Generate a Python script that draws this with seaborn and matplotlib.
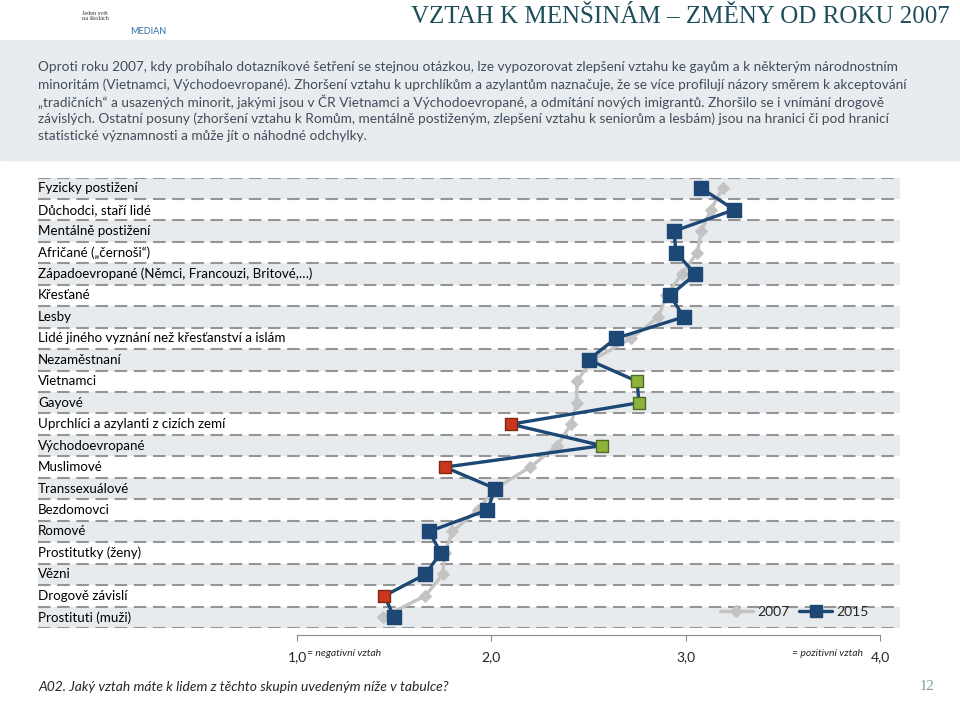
import numpy as np
import pandas as pd
import matplotlib
matplotlib.use("Agg")
import matplotlib.pyplot as plt
import seaborn as sns
from matplotlib.lines import Line2D
from matplotlib.patches import Rectangle

# --- data (mean rating 1 = negative, 4 = positive) ---
groups = [
    "Fyzicky postižení",
    "Důchodci, staří lidé",
    "Mentálně postižení",
    "Afričané („černoši“)",
    "Západoevropané (Němci, Francouzi, Britové,…)",
    "Křesťané",
    "Lesby",
    "Lidé jiného vyznání než křesťanství a islám",
    "Nezaměstnaní",
    "Vietnamci",
    "Gayové",
    "Uprchlíci a azylanti z cizích zemí",
    "Východoevropané",
    "Muslimové",
    "Transsexuálové",
    "Bezdomovci",
    "Romové",
    "Prostitutky (ženy)",
    "Vězni",
    "Drogově závislí",
    "Prostituti (muži)",
]
v2007 = [3.19, 3.13, 3.08, 3.06, 2.98, 2.90, 2.86, 2.72, 2.52, 2.44, 2.44,
         2.41, 2.34, 2.20, 2.02, 1.93, 1.80, 1.76, 1.75, 1.66, 1.44]
v2015 = [3.08, 3.25, 2.94, 2.95, 3.05, 2.92, 2.99, 2.64, 2.50, 2.75, 2.76,
         2.10, 2.57, 1.76, 2.02, 1.98, 1.68, 1.74, 1.66, 1.45, 1.50]
# significant change: "+" improved, "-" worsened
change = ["", "", "", "", "", "", "", "", "", "+", "+",
          "-", "+", "-", "", "", "", "", "", "-", ""]

x_ticks = [1, 2, 3, 4]
x_ticklabels = ["1,0", "2,0", "3,0", "4,0"]

intro_lines = [
    "Oproti roku 2007, kdy probíhalo dotazníkové šetření se stejnou otázkou, lze vypozorovat zlepšení vztahu ke gayům a k některým národnostním",
    "minoritám (Vietnamci, Východoevropané). Zhoršení vztahu k uprchlíkům a azylantům naznačuje, že se více profilují názory směrem k akceptování",
    "„tradičních“ a usazených minorit, jakými jsou v ČR Vietnamci a Východoevropané, a odmítání nových imigrantů. Zhoršilo se i vnímání drogově",
    "závislých. Ostatní posuny (zhoršení vztahu k Romům, mentálně postiženým, zlepšení vztahu k seniorům a lesbám) jsou na hranici či pod hranicí",
    "statistické významnosti a může jít o náhodné odchylky.",
]

df = pd.DataFrame({"skupina": groups, "r2007": v2007, "r2015": v2015, "zmena": change})
df["pos"] = np.arange(len(df))
n = len(df)

BLUE = "#1D4775"
GREY = "#C3C3C3"
BAND = "#E8EBEE"
mcolors = {"": BLUE, "+": "#8DB33A", "-": "#C8371E"}
medges = {"": BLUE, "+": "#4F6A22", "-": "#7F2A15"}
msizes = {"": 95, "+": 72, "-": 72}

sns.set_style("white")
plt.rcParams["font.family"] = ["Lato", "DejaVu Sans"]

W, H = 960, 712
fig = plt.figure(figsize=(9.6, 7.12), dpi=100)

# header / text box
fig.patches.append(Rectangle((0, 1 - 160 / H), 1, 120 / H, transform=fig.transFigure,
                             color="#E9ECEF", zorder=0))
fig.text(950 / W, 1 - 17 / H, "VZTAH K MENŠINÁM – ZMĚNY OD ROKU 2007", ha="right", va="center",
         family="Liberation Serif", fontsize=18, color="#1F4E5A")
fig.text(82 / W, 1 - 16 / H, "Jeden svět\nna školách", fontsize=4.5, color="#333333",
         ha="left", va="center", family="Liberation Serif")
fig.text(148 / W, 1 - 31 / H, "MEDIAN", fontsize=6.5, color="#2E6DA4", ha="center", va="center")
for k, line in enumerate(intro_lines):
    fig.text(38 / W, 1 - (67 + k * 17.3) / H, line, fontsize=9.8, color="#404D5B",
             ha="left", va="center")

ax = fig.add_axes([38 / W, 84 / H, 862 / W, 450.5 / H])

# alternating bands and dashed separators
for i in range(n):
    if i % 2 == 0:
        ax.axhspan(i - 0.5, i + 0.5, color=BAND, lw=0, zorder=0)
for b in np.arange(n + 1) - 0.5:
    ax.axhline(b, color="#959595", lw=1.5, ls=(0, (6, 3.2)), zorder=1)

# 2007 series
sns.lineplot(data=df, x="r2007", y="pos", sort=False, estimator=None, ax=ax,
             color=GREY, lw=2.4, marker="D", markersize=6, markeredgecolor=GREY, zorder=2)
# 2015 series
sns.lineplot(data=df, x="r2015", y="pos", sort=False, estimator=None, ax=ax,
             color=BLUE, lw=2.4, zorder=3)
for key, sub in df.groupby("zmena"):
    sns.scatterplot(data=sub, x="r2015", y="pos", ax=ax, marker="s", s=msizes[key],
                    color=mcolors[key], edgecolor=medges[key], linewidth=1, zorder=4)

# row labels
for i, g in enumerate(groups):
    ax.text(0.0, i, g, transform=ax.get_yaxis_transform(), ha="left", va="center",
            fontsize=9.6, color="black", zorder=5)

x_per_px = 3 / 583
ax.set_xlim(1 - 259 * x_per_px, 4 + 20 * x_per_px)
ax.set_ylim(n - 0.5, -0.5)
ax.set_yticks([])
ax.set_xticks(x_ticks)
ax.set_xticklabels(x_ticklabels)
ax.set_xlabel("")
ax.set_ylabel("")
for s in ["left", "top", "right"]:
    ax.spines[s].set_visible(False)
ax.spines["bottom"].set_bounds(1, 4)
ax.spines["bottom"].set_position(("outward", 5))
ax.spines["bottom"].set_color("#8C8C8C")
ax.tick_params(axis="x", length=4, color="#8C8C8C", labelsize=10, pad=8, bottom=True)

ax.annotate("= negativní vztah", xy=(1, 0), xycoords=("data", "axes fraction"),
            xytext=(10, -26), textcoords="offset pixels", ha="left", va="center",
            style="italic", fontsize=7.5)
ax.annotate("= pozitivní vztah", xy=(4, 0), xycoords=("data", "axes fraction"),
            xytext=(-17, -26), textcoords="offset pixels", ha="right", va="center",
            style="italic", fontsize=7.5)

handles = [
    Line2D([], [], color=GREY, lw=2.4, marker="D", markersize=6, markeredgecolor=GREY),
    Line2D([], [], color=BLUE, lw=2.4, marker="s", markersize=9),
]
ax.legend(handles, ["2007", "2015"], ncol=2, frameon=False, loc="center right",
          bbox_to_anchor=(0.975, 0.035), fontsize=10, handlelength=2.4,
          columnspacing=0.7, handletextpad=0.3, borderpad=0.2)

fig.text(38 / W, 1 - 687 / H, "A02. Jaký vztah máte k lidem z těchto skupin uvedeným níže v tabulce?",
         style="italic", fontsize=10, ha="left", va="center")
fig.text(927 / W, 1 - 687 / H, "12", family="Liberation Serif", color="#7F9A9A",
         fontsize=10.5, ha="center", va="center")

fig.savefig("out.png", dpi=100)
